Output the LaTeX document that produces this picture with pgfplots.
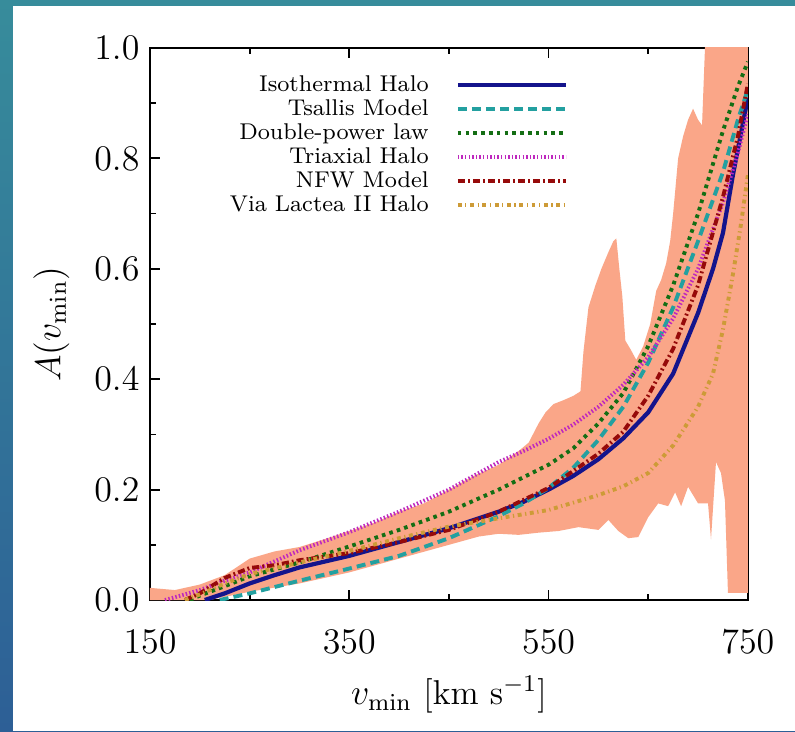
\documentclass[border=0pt]{standalone}
\usepackage{pgfplots}
\pgfplotsset{compat=1.18}
\definecolor{bgtop}{RGB}{55,140,155}
\definecolor{bgbot}{RGB}{45,95,150}
\definecolor{band}{RGB}{250,166,136}
\definecolor{isoc}{RGB}{20,20,140}
\definecolor{tsac}{RGB}{35,160,160}
\definecolor{dplc}{RGB}{20,110,20}
\definecolor{tric}{RGB}{190,40,190}
\definecolor{nfwc}{RGB}{150,10,10}
\definecolor{vlc}{RGB}{205,155,55}

\begin{document}
\begin{tikzpicture}
\useasboundingbox (-50pt,-43.67pt) rectangle (215pt,200pt);
\shade[top color=bgtop, bottom color=bgbot] (-50pt,-43.67pt) rectangle (215pt,200pt);
\fill[white] (-45.67pt,-43.67pt) rectangle (215pt,198pt);
\begin{axis}[
    scale only axis,
    width=199.3pt, height=184pt,
    xmin=150, xmax=750, ymin=0, ymax=1,
    xtick={150,350,550,750},
    ytick={0,0.2,0.4,0.6,0.8,1.0},
    minor x tick num=1,
    minor y tick num=1,
    tick pos=both,
    tick align=inside,
    major tick length=3.3pt,
    minor tick length=2pt,
    axis line style={line width=0.7pt},
    every tick/.style={black, line width=0.6pt},
    tick label style={font=\fontsize{11.5}{13}\selectfont},
    xticklabel style={yshift=-6.5pt},
    yticklabel style={/pgf/number format/.cd, fixed, fixed zerofill, precision=1},
    label style={font=\fontsize{11.5}{13}\selectfont},
    xlabel={$v_{\rm min}$ [km s$^{-1}$]},
    ylabel={$A(v_{\rm min})$},
    xlabel style={at={(axis description cs:0.5,-0.172)}, anchor=center},
    ylabel style={at={(axis description cs:-0.165,0.5)}, anchor=center},
    legend plot pos=right,
    legend cell align=right,
    legend image code/.code={\draw[#1] (0pt,0pt) -- (36pt,0pt);},
    legend style={at={(axis description cs:0.715,0.966)}, anchor=north east,
        draw=none, fill=none, font=\fontsize{7.6}{9}\selectfont,
        column sep=8.5pt, row sep=0pt,
        nodes={inner sep=0.5pt, text height=5.5pt, text depth=1.5pt}},
]
% confidence band: upper edge left to right, lower edge back
\addplot[fill=band, draw=none, forget plot] coordinates {
(150,0.022) (175,0.018) (200,0.028) (225,0.045) (250,0.075) (275,0.088)
(300,0.096) (325,0.11) (350,0.125) (375,0.14) (400,0.16) (425,0.175)
(450,0.2) (475,0.225) (500,0.245) (520,0.27) (530,0.285) (540,0.32)
(547,0.34) (555,0.355) (565,0.362) (575,0.37) (582,0.378) (585,0.45)
(590,0.53) (597,0.57) (603,0.6) (610,0.63) (615,0.65) (618,0.655)
(621,0.6) (624,0.55) (627,0.47) (632,0.455) (638,0.435) (645,0.46)
(652,0.5) (658,0.56) (663,0.58) (668,0.61) (672,0.65) (675,0.7)
(680,0.8) (685,0.84) (690,0.87) (695,0.89) (700,0.87) (704,0.86)
(708,1.05) (750,1.05)
(750,0.013) (730,0.013) (727,0.18) (723,0.23) (718,0.25) (713,0.11)
(710,0.175) (700,0.175) (690,0.205) (683,0.17) (677,0.195) (670,0.17)
(660,0.175) (650,0.15) (640,0.114) (630,0.112) (620,0.125) (610,0.145)
(600,0.127) (580,0.132) (560,0.125) (540,0.122) (520,0.118) (500,0.12)
(480,0.115) (470,0.11) (440,0.095) (400,0.075) (350,0.05) (300,0.03)
(250,0.015) (210,0.0) (150,0.0)
} --cycle;

\addplot[isoc, line width=1.4pt] coordinates {
(205,0.0) (225,0.012) (250,0.03) (275,0.045) (300,0.059) (350,0.08)
(400,0.105) (450,0.13) (500,0.16) (525,0.178) (550,0.2) (575,0.225)
(600,0.255) (625,0.293) (650,0.34) (675,0.41) (700,0.52) (715,0.6)
(725,0.665) (735,0.77) (750,0.91)
};
\addlegendentry{Isothermal Halo}

\addplot[tsac, line width=1.3pt, dash pattern=on 3pt off 1.7pt] coordinates {
(220,0.0) (250,0.012) (300,0.035) (350,0.057) (400,0.08) (450,0.112)
(500,0.152) (525,0.175) (550,0.203) (575,0.24) (600,0.29) (625,0.35)
(650,0.43) (675,0.53) (700,0.65) (725,0.775) (740,0.87) (750,0.925)
};
\addlegendentry{Tsallis Model}

\addplot[dplc, line width=1.3pt, dash pattern=on 1.2pt off 1.4pt] coordinates {
(190,0.0) (200,0.008) (225,0.025) (250,0.043) (300,0.068) (350,0.097)
(400,0.127) (450,0.16) (500,0.2) (550,0.245) (575,0.275) (600,0.32)
(625,0.375) (650,0.46) (675,0.57) (700,0.7) (725,0.85) (740,0.93)
(750,0.975)
};
\addlegendentry{Double-power law}

\addplot[tric, line width=1.3pt, dash pattern=on 0.5pt off 0.7pt] coordinates {
(165,0.0) (175,0.005) (200,0.018) (225,0.035) (250,0.05) (275,0.07)
(300,0.09) (350,0.123) (400,0.16) (450,0.2) (475,0.225) (500,0.25)
(525,0.27) (550,0.292) (575,0.318) (600,0.35) (625,0.39) (650,0.44)
(675,0.51) (700,0.6) (725,0.72) (740,0.81) (750,0.88)
};
\addlegendentry{Triaxial Halo}

\addplot[nfwc, line width=1.3pt, dash pattern=on 2.4pt off 1pt on 0.6pt off 1pt] coordinates {
(185,0.0) (200,0.012) (225,0.04) (250,0.058) (275,0.063) (300,0.072)
(350,0.085) (400,0.105) (450,0.127) (500,0.16) (550,0.203) (600,0.265)
(625,0.305) (650,0.37) (675,0.455) (700,0.57) (725,0.73) (740,0.84)
(750,0.935)
};
\addlegendentry{NFW Model}

\addplot[vlc, line width=1.3pt, dash pattern=on 1.3pt off 1.2pt on 0.4pt off 1.2pt] coordinates {
(185,0.0) (200,0.01) (225,0.03) (250,0.047) (300,0.068) (350,0.089)
(400,0.112) (450,0.133) (500,0.148) (550,0.163) (600,0.19) (625,0.206)
(650,0.23) (675,0.28) (700,0.35) (715,0.41) (725,0.49) (735,0.59)
(743,0.68) (750,0.77)
};
\addlegendentry{Via Lactea II Halo}
\end{axis}
\end{tikzpicture}
\end{document}
